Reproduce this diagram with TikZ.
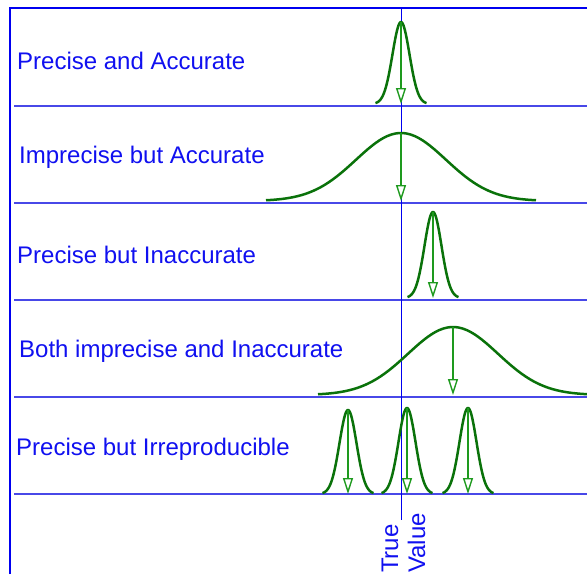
\documentclass[tikz,border=0pt]{standalone}
\usepackage{fontspec}
\setmainfont{Liberation Sans}
\usepackage{xcolor}
\usepackage{tikz}
\usetikzlibrary{arrows.meta, positioning}
\definecolor{framecol}{HTML}{0000F0}
\definecolor{rulecol}{HTML}{4848E8}
\definecolor{labelcol}{HTML}{1010F0}
\definecolor{curvecol}{HTML}{0A720A}
\definecolor{arrowcol}{HTML}{1E9A1E}
% bell curve: peak x, base y, height, sigma
\newcommand{\bellcurve}[4]{%
  \draw[curve, domain={-3*#4}:{3*#4}] plot ({#1+\x}, {#2-#3*exp(-0.5*(\x/#4)^2)});}

\begin{document}
\begin{tikzpicture}[x=1pt, y=-1pt,
    frame/.style={draw=framecol, line width=2.2pt},
    rowrule/.style={draw=rulecol, line width=1.8pt},
    axis/.style={draw=framecol, line width=1pt},
    label/.style={text=labelcol, font=\fontsize{24}{28}\selectfont,
                  inner sep=0pt, anchor=base west},
    curve/.style={draw=curvecol, line width=2.5pt, samples=70, smooth},
    meanarrow/.style={draw=arrowcol, line width=1.4pt,
                      -{Triangle[length=16pt, width=10pt, fill=white, line width=1.4pt]}}]
    \useasboundingbox (0,0) rectangle (587,574);
    % frame and rows
    \draw[frame] (10,574) -- (10,8) -- (587,8);
    \foreach \y in {106,203,300,397,494}
        \draw[rowrule] (14,\y) -- (587,\y);
    % true value axis
    \coordinate (axistop) at (401,8);
    \coordinate (axisbot) at (401,520);
    \draw[axis] (axistop) -- (axisbot);
    \node[label, rotate=90] (truetxt) at (398,573) {True};
    \node[label, rotate=90] (valuetxt) at (425,573) {Value};
    % row labels
    \node[label] (precacc) at (17,69) {Precise and Accurate};
    \node[label] (impacc) at (19,163) {Imprecise but Accurate};
    \node[label] (precinacc) at (17,263) {Precise but Inaccurate};
    \node[label] (bothimp) at (19,357) {Both imprecise and Inaccurate};
    \node[label] (precirr) at (16,455) {Precise but Irreproducible};
    % distributions
    \bellcurve{401}{104}{82}{8.5}
    \bellcurve{401}{201}{68}{45}
    \bellcurve{433}{298}{86}{8.5}
    \bellcurve{453}{395}{68}{45}
    \bellcurve{348}{494}{84}{8.5}
    \bellcurve{407}{494}{86}{8.5}
    \bellcurve{468}{494}{86}{8.5}
    % mean arrows
    \coordinate (peaka) at (401,22);  \coordinate (basea) at (401,104);
    \coordinate (peakb) at (401,133); \coordinate (baseb) at (401,201);
    \coordinate (peakc) at (433,212); \coordinate (basec) at (433,298);
    \coordinate (peakd) at (453,327); \coordinate (based) at (453,395);
    \coordinate (peake) at (348,410); \coordinate (basee) at (348,494);
    \coordinate (peakf) at (407,408); \coordinate (basef) at (407,494);
    \coordinate (peakg) at (468,408); \coordinate (baseg) at (468,494);
    \foreach \p in {a,b,c,d,e,f,g}
        \draw[meanarrow] (peak\p) -- (base\p);
\end{tikzpicture}
\end{document}
